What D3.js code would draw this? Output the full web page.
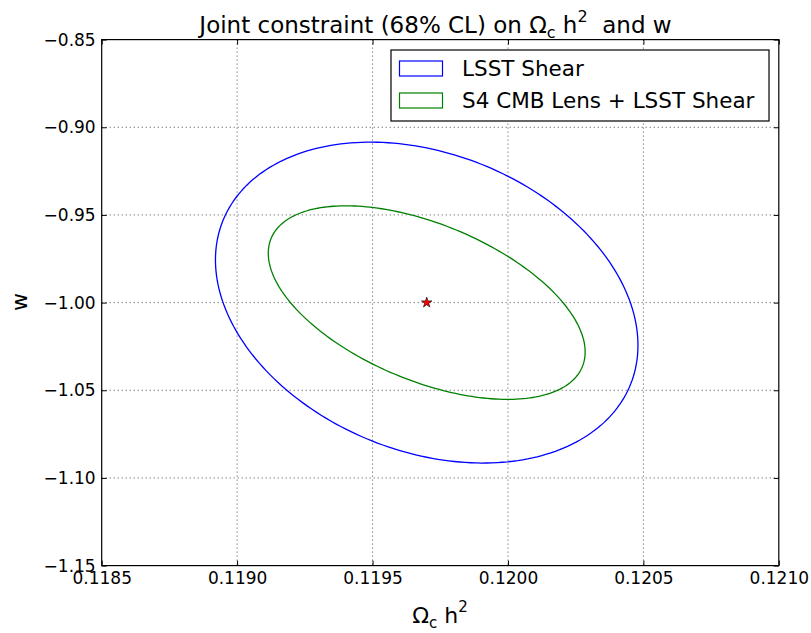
<!DOCTYPE html>
<html>
<head>
<meta charset="utf-8">
<script src="https://cdn.jsdelivr.net/npm/d3@7"></script>
<style>
  body { margin: 0; background: #fff; }
  svg { display: block; }
  text { font-family: "DejaVu Sans", sans-serif; fill: #000; }
</style>
</head>
<body>
<svg id="chart" width="811" height="633"></svg>
<script>
// ---- data ----
const contourNames = ["LSST Shear", "S4 CMB Lens + LSST Shear"];
const centerOmega = [0.11970, 0.11970];
const centerW = [-1.000, -1.000];
const halfWidthOmega = [0.000780, 0.000585];
const halfHeightW = [0.0915, 0.0552];
const correlation = [-0.266, -0.51];
const fiducialOmega = [0.1197];
const fiducialW = [-1.0];
const xTicks = [0.1185, 0.1190, 0.1195, 0.1200, 0.1205, 0.1210];
const yTicks = [-1.15, -1.10, -1.05, -1.00, -0.95, -0.90, -0.85];
const contourColors = ["#0000ff", "#008000"];

// ---- layout ----
const svg = d3.select("#chart");
const L = 101.7, R = 778.8, T = 39.6, B = 565.6;
const x = d3.scaleLinear().domain([0.1185, 0.1210]).range([L, R]);
const y = d3.scaleLinear().domain([-1.15, -0.85]).range([B, T]);

// grid
const grid = svg.append("g");
grid.selectAll(".gx").data(xTicks.slice(1, -1)).join("line")
  .attr("x1", d => x(d)).attr("x2", d => x(d)).attr("y1", T).attr("y2", B)
  .attr("stroke", "#000").attr("stroke-width", 0.7).attr("stroke-dasharray", "1,3");
grid.selectAll(".gy").data(yTicks.slice(1, -1)).join("line")
  .attr("y1", d => y(d)).attr("y2", d => y(d)).attr("x1", L).attr("x2", R)
  .attr("stroke", "#000").attr("stroke-width", 0.7).attr("stroke-dasharray", "1,3");

// ellipses
const N = 240;
const ellipses = contourNames.map((name, i) => {
  const s = Math.sqrt(1 - correlation[i] * correlation[i]);
  return d3.range(N + 1).map(k => {
    const t = 2 * Math.PI * k / N;
    return [centerOmega[i] + halfWidthOmega[i] * Math.cos(t),
            centerW[i] + halfHeightW[i] * (correlation[i] * Math.cos(t) - s * Math.sin(t))];
  });
});
const line = d3.line().x(d => x(d[0])).y(d => y(d[1]));
svg.append("g").selectAll("path").data(ellipses).join("path")
  .attr("d", line).attr("fill", "none")
  .attr("stroke", (d, i) => contourColors[i]).attr("stroke-width", 1.3);

// fiducial star
svg.append("g").selectAll("path").data(fiducialOmega).join("path")
  .attr("d", d3.symbol(d3.symbolStar, 34)())
  .attr("transform", (d, i) => `translate(${x(d)},${y(fiducialW[i])})`)
  .attr("fill", "#ff0000").attr("stroke", "#000").attr("stroke-width", 0.6);

// axes (ticks inward)
const tl = 5;
const xAxisB = d3.axisBottom(x).tickValues(xTicks).tickFormat(d3.format(".4f")).tickSizeInner(-tl).tickSizeOuter(0).tickPadding(6);
const xAxisT = d3.axisTop(x).tickValues(xTicks).tickFormat("").tickSizeInner(-tl).tickSizeOuter(0);
const yAxisL = d3.axisLeft(y).tickValues(yTicks).tickFormat(d => d3.format(".2f")(d).replace("-", "\u2212")).tickSizeInner(-tl).tickSizeOuter(0).tickPadding(6);
const yAxisR = d3.axisRight(y).tickValues(yTicks).tickFormat("").tickSizeInner(-tl).tickSizeOuter(0);

function styleAxis(g) {
  g.select(".domain").remove();
  g.selectAll("line").attr("stroke", "#000").attr("stroke-width", 1);
  g.selectAll("text").attr("font-family", "DejaVu Sans").attr("font-size", 17).attr("fill", "#000");
}
svg.append("g").attr("transform", `translate(0,${B})`).call(xAxisB).call(styleAxis)
  .selectAll("text").attr("dy", "0.71em");
svg.append("g").attr("transform", `translate(0,${T})`).call(xAxisT).call(styleAxis);
svg.append("g").attr("transform", `translate(${L},0)`).call(yAxisL).call(styleAxis);
svg.append("g").attr("transform", `translate(${R},0)`).call(yAxisR).call(styleAxis);

// frame
svg.append("rect").attr("x", L).attr("y", T).attr("width", R - L).attr("height", B - T)
  .attr("fill", "none").attr("stroke", "#000").attr("stroke-width", 1.2);

// legend
const lg = svg.append("g");
lg.append("rect").attr("x", 391).attr("y", 50).attr("width", 378).attr("height", 71)
  .attr("fill", "#fff").attr("stroke", "#000").attr("stroke-width", 1.2);
contourNames.forEach((name, i) => {
  const yy = 68.5 + i * 32;
  lg.append("rect").attr("x", 399.5).attr("y", yy - 7.5).attr("width", 43).attr("height", 15)
    .attr("fill", "none").attr("stroke", contourColors[i]).attr("stroke-width", 1.2);
  lg.append("text").attr("x", 462).attr("y", yy).attr("dy", "0.36em")
    .attr("font-size", 21.5).text(name);
});

// title
const title = svg.append("text").attr("x", 435.5).attr("y", 33).attr("text-anchor", "middle").attr("font-size", 23);
title.append("tspan").text("Joint constraint (68% CL) on \u03A9");
title.append("tspan").attr("font-size", 16).attr("dy", 5).text("c");
title.append("tspan").attr("dy", -5).text("\u00A0h");
title.append("tspan").attr("font-size", 16).attr("dy", -11).text("2");
title.append("tspan").attr("dy", 11).text("\u00A0\u00A0and w");

// x label
const xl = svg.append("text").attr("x", 440).attr("y", 623).attr("text-anchor", "middle").attr("font-size", 22);
xl.append("tspan").text("\u03A9");
xl.append("tspan").attr("font-size", 15).attr("dy", 5).text("c");
xl.append("tspan").attr("dy", -5).text("\u00A0h");
xl.append("tspan").attr("font-size", 15).attr("dy", -11).text("2");

// y label
svg.append("text").attr("transform", "translate(27,302) rotate(-90)").attr("text-anchor", "middle")
  .attr("font-size", 22).text("w");
</script>
</body>
</html>
